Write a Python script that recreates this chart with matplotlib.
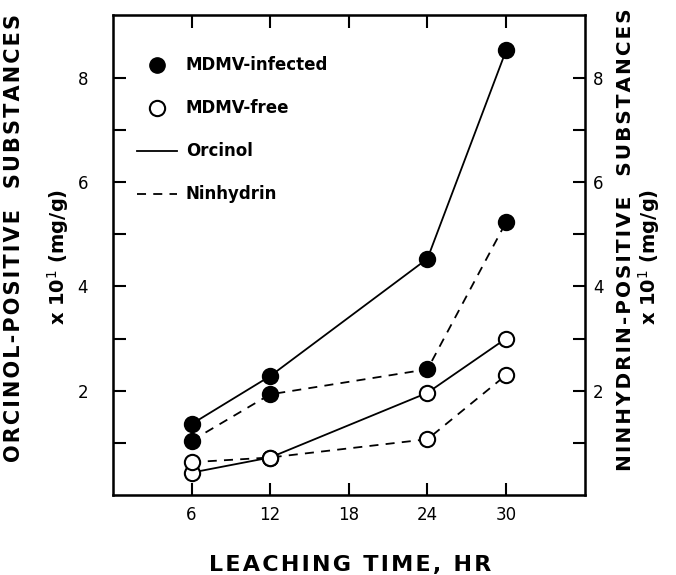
import matplotlib.pyplot as plt
from matplotlib.lines import Line2D

hours = [6, 12, 24, 30]
infected_orcinol = [1.36, 2.28, 4.53, 8.52]
infected_ninhydrin = [1.04, 1.93, 2.41, 5.23]
free_orcinol = [0.43, 0.72, 1.96, 3.0]
free_ninhydrin = [0.63, 0.72, 1.07, 2.30]

xticks = [6, 12, 18, 24, 30]
yticks = [1, 2, 3, 4, 5, 6, 7, 8]
ylabels = ["", "2", "", "4", "", "6", "", "8"]


def spaced(s):
    # slight letter spacing like the typeset original
    return "\u200a".join(s)


fig = plt.figure(figsize=(6.76, 5.75), dpi=100)
ax = fig.add_axes([0.167, 0.139, 0.698, 0.835])

mk = dict(marker="o", markersize=11, markeredgewidth=1.5, markeredgecolor="black", color="black", lw=1.3)
ax.plot(hours, infected_orcinol, "-", markerfacecolor="black", **mk)
ax.plot(hours, infected_ninhydrin, "--", markerfacecolor="black", dashes=(5, 4), **mk)
ax.plot(hours, free_orcinol, "-", markerfacecolor="white", **mk)
ax.plot(hours, free_ninhydrin, "--", markerfacecolor="white", dashes=(5, 4), **mk)

ax.set_xlim(0, 36)
ax.set_ylim(0, 9.2)
ax.set_xticks(xticks)
ax.set_yticks(yticks)
ax.set_yticklabels(ylabels)
ax.tick_params(direction="in", length=9, width=1.5, labelsize=12, top=True, right=True)
ax.tick_params(axis="x", pad=8)
ax.tick_params(axis="y", pad=18)
for s in ax.spines.values():
    s.set_linewidth(1.8)

# right axis labels sit closer to the frame
ax2 = ax.twinx()
ax2.set_ylim(ax.get_ylim())
ax2.set_yticks(yticks)
ax2.set_yticklabels(ylabels)
ax2.tick_params(direction="in", length=9, width=1.5, labelsize=12, pad=6)

# legend
handles = [
    Line2D([], [], ls="none", marker="o", markersize=11, color="black"),
    Line2D([], [], ls="none", marker="o", markersize=11, markerfacecolor="white",
           markeredgecolor="black", markeredgewidth=1.5),
    Line2D([], [], ls="-", color="black", lw=1.3),
    Line2D([], [], ls="--", color="black", lw=1.3, dashes=(5, 4)),
]
labels = ["MDMV-infected", "MDMV-free", "Orcinol", "Ninhydrin"]
ax.legend(handles, labels, loc="upper left", bbox_to_anchor=(0.02, 0.945), frameon=False,
          prop={"weight": "bold", "size": 12}, labelspacing=1.5, handlelength=2.4,
          handletextpad=0.5)

lab = dict(fontweight="bold", rotation=90, ha="center", va="center")
fig.text(0.02, 0.586, spaced("ORCINOL-POSITIVE  SUBSTANCES"), fontsize=15, **lab)
fig.text(0.086, 0.553, "x 10$^{1}$ (mg/g)", fontsize=14, **lab)
fig.text(0.926, 0.584, spaced("NINHYDRIN-POSITIVE  SUBSTANCES"), fontsize=14.4, **lab)
fig.text(0.96, 0.553, "x 10$^{1}$ (mg/g)", fontsize=14, **lab)
fig.text(0.518, 0.017, spaced("LEACHING TIME, HR"), fontsize=16, fontweight="bold",
         ha="center", va="center")

fig.savefig("out.png", dpi=100)
